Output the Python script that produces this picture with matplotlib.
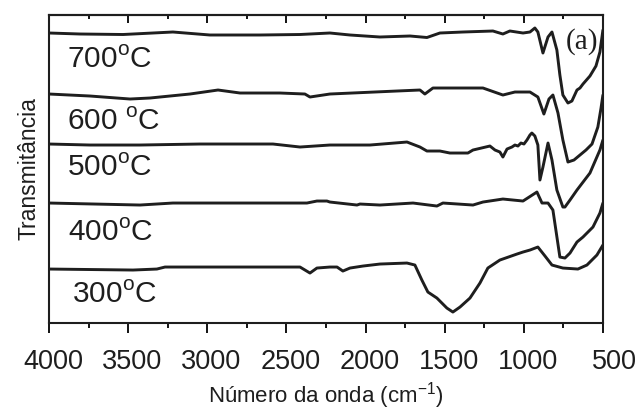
import matplotlib
matplotlib.use("Agg")
import matplotlib.pyplot as plt
from matplotlib.ticker import MultipleLocator
from matplotlib.transforms import ScaledTranslation

plt.rcParams['font.family'] = ['Liberation Sans', 'DejaVu Sans']
plt.rcParams['mathtext.fontset'] = 'custom'
plt.rcParams['mathtext.rm'] = 'Liberation Sans'

# Wavenumbers (cm-1) and transmittance (arbitrary units, offset curves)
wn_700 = [4000, 3804, 3532, 3217, 2983, 2667, 2414, 2225, 2098, 1909, 1719, 1612, 1530, 1384,
          1195, 1132, 1088, 1005, 961, 930, 911, 879, 847, 822, 791, 772, 753, 721, 696, 664,
          645, 626, 582, 544, 519, 500]
t_700 = [290, 289, 288.5, 291, 288, 288, 288.5, 290, 288, 286, 287, 285.5, 290, 291,
         292, 289, 292, 290, 291, 295, 291, 270, 286, 291, 273, 248, 228, 220, 222, 233,
         235, 239, 247, 257, 271, 293]

wn_600 = [4000, 3741, 3488, 3362, 3109, 2932, 2793, 2541, 2383, 2351, 2225, 1801, 1656, 1625,
          1574, 1258, 1132, 1056, 961, 911, 873, 841, 816, 784, 753, 721, 683, 645, 607,
          569, 532, 512, 500]
t_600 = [229, 227, 224, 225, 229, 233, 230, 230, 229, 226, 229, 232, 233, 229,
         235, 235, 228, 231, 231, 226, 209, 224, 228, 210, 183, 161, 163, 168, 173,
         179, 196, 215, 228]

wn_500 = [4000, 3741, 3425, 3046, 2585, 2414, 2225, 1972, 1738, 1656, 1612, 1530, 1467, 1353,
          1321, 1214, 1182, 1151, 1132, 1106, 1075, 1056, 1037, 1018, 999, 980, 961, 949,
          930, 911, 898, 879, 847, 822, 791, 753, 740, 708, 664, 582, 519, 500]
t_500 = [179, 178, 178, 179, 179, 176, 178, 178, 181, 176, 172, 172, 170, 170,
         173, 177, 173, 171, 166, 174, 176, 178, 177, 180, 179, 183, 188, 190,
         187, 178, 143, 156, 180, 163, 133, 116, 116, 123, 133, 150, 173, 183]

wn_400 = [4000, 3425, 3217, 2370, 2307, 2244, 2225, 2054, 2035, 1909, 1700, 1549, 1511, 1321,
          1258, 1132, 1005, 917, 885, 847, 816, 772, 740, 708, 664, 626, 563, 519, 500]
t_400 = [120, 118, 120, 120, 122, 122, 121, 118, 119, 118, 120, 117, 120, 118,
         121, 124, 122, 131, 120, 120, 113, 66, 65, 70, 81, 86, 96, 110, 120]

wn_300 = [4000, 3469, 3318, 3267, 2414, 2351, 2307, 2225, 2180, 2143, 2098, 2016, 1909, 1738,
          1688, 1644, 1606, 1549, 1486, 1448, 1403, 1340, 1277, 1227, 1151, 1043, 1005, 961,
          911, 866, 822, 753, 658, 601, 538, 500]
t_300 = [54, 53, 54, 56, 56, 50, 55, 56, 56, 52, 55, 57, 59, 60,
         58, 43, 31, 25, 15, 11, 16, 25, 40, 55, 63, 69, 71, 73,
         76, 67, 58, 55, 54, 58, 68, 78]

series = [(wn_700, t_700), (wn_600, t_600), (wn_500, t_500), (wn_400, t_400), (wn_300, t_300)]
labels = [r'700$^{\mathregular{o}}$C', r'600 $^{\mathregular{o}}$C', r'500$^{\mathregular{o}}$C',
          r'400$^{\mathregular{o}}$C', r'300$^{\mathregular{o}}$C']
label_y = [255, 193, 147, 82, 20]
label_x = [3886, 3886, 3886, 3880, 3855]

xticks = [4000, 3500, 3000, 2500, 2000, 1500, 1000, 500]

fig = plt.figure(figsize=(6.36, 4.11), dpi=100)
ax = fig.add_axes([0.077, 0.214, 0.871, 0.7495])

for (wn, t) in series:
    ax.plot(wn, t, color='#1e1e1e', lw=2.1, solid_joinstyle='round', solid_capstyle='round')

for lab, lx, ly in zip(labels, label_x, label_y):
    ax.text(lx, ly, lab, fontsize=21.5, ha='left', va='baseline', color='#1e1e1e')

ax.text(0.962, 0.915, '(a)', transform=ax.transAxes, fontsize=21, ha='center', va='center',
        family='Liberation Serif', color='#1e1e1e')

ax.set_xlim(4000, 500)
ax.set_ylim(0, 308)
ax.set_xticks(xticks)
ax.xaxis.set_minor_locator(MultipleLocator(250))
ax.set_yticks([])

ax.tick_params(axis='x', which='major', direction='out', length=7, width=1.3,
               labelsize=19.5, pad=12, top=False, labelcolor='#1e1e1e')
ax.tick_params(axis='x', which='minor', direction='out', length=3.5, width=1.3, top=False)

sec = ax.secondary_xaxis('top')
sec.set_xticks(xticks)
sec.xaxis.set_minor_locator(MultipleLocator(250))
sec.tick_params(axis='x', which='major', direction='in', length=6, width=1.3, labeltop=False)
sec.tick_params(axis='x', which='minor', direction='in', length=3, width=1.3)
sec.spines['top'].set_linewidth(1.5)

for sp in ax.spines.values():
    sp.set_linewidth(1.5)
    sp.set_color('#1e1e1e')

offset = ScaledTranslation(34 / 100, 0, fig.dpi_scale_trans)
for lbl in ax.get_xticklabels():
    lbl.set_horizontalalignment('right')
    lbl.set_transform(lbl.get_transform() + offset)

ax.set_xlabel(r'Número da onda (cm$^{\mathregular{-1}}$)', fontsize=16, labelpad=3,
              color='#1e1e1e')
ax.set_ylabel('Transmitância', fontsize=16.5, labelpad=6, color='#1e1e1e')

fig.savefig('out.png', dpi=100)
